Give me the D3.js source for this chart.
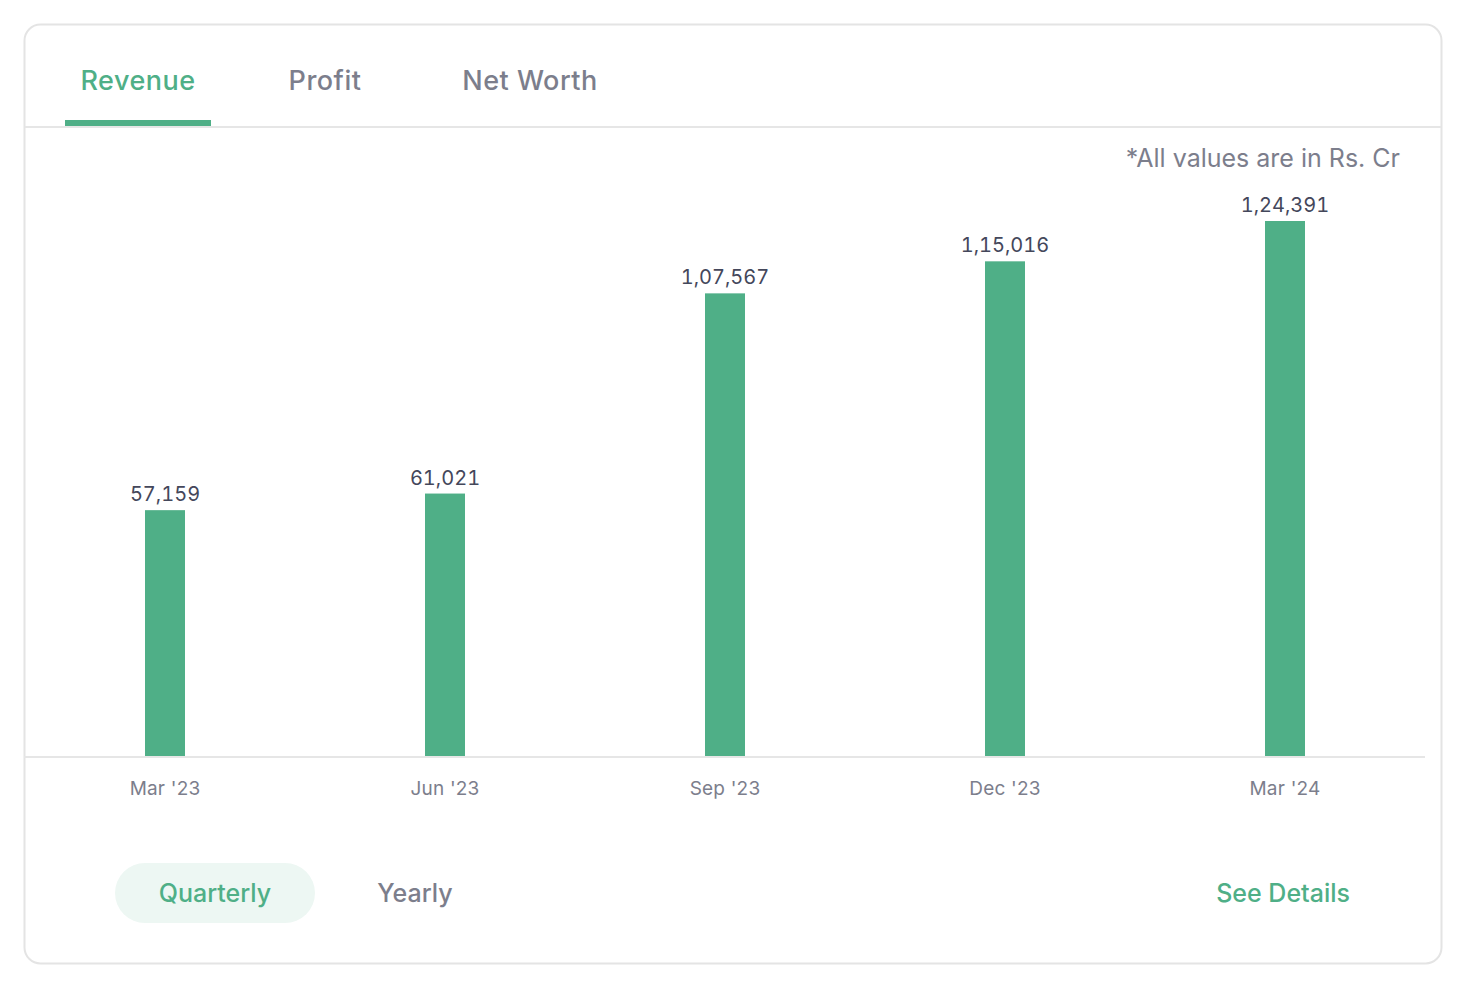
<!DOCTYPE html>
<html>
<head>
<meta charset="utf-8">
<script src="https://cdn.jsdelivr.net/npm/d3@7/dist/d3.min.js"></script>
<style>
  html, body { margin: 0; padding: 0; background: #ffffff; }
  svg { display: block; font-family: Inter, "Noto Sans", sans-serif; }
  .val { font-variant-numeric: tabular-nums; font-feature-settings: "tnum" 1; }
</style>
</head>
<body>
<svg id="chart" width="1476" height="992"></svg>
<script>
const categories = ["Mar '23", "Jun '23", "Sep '23", "Dec '23", "Mar '24"];
const revenue = [57159, 61021, 107567, 115016, 124391];
const valueLabels = ["57,159", "61,021", "1,07,567", "1,15,016", "1,24,391"];
const tabs = ["Revenue", "Profit", "Net Worth"];
const periods = ["Quarterly", "Yearly"];

const GREEN = "#4faf87";
const GRAY = "#7c7e8c";
const DARK = "#44475b";

const svg = d3.select("#chart");

// card
svg.append("rect")
  .attr("x", 24.5).attr("y", 24.5)
  .attr("width", 1417).attr("height", 939)
  .attr("rx", 16).attr("ry", 16)
  .attr("fill", "#fff").attr("stroke", "#e4e4e4").attr("stroke-width", 2);

// tabs
const tabX = [138, 325, 530];
svg.selectAll("text.tab").data(tabs).enter().append("text")
  .attr("class", "tab")
  .attr("x", (d, i) => tabX[i]).attr("y", 90)
  .attr("text-anchor", "middle")
  .attr("font-size", 27).attr("font-weight", 500)
  .attr("letter-spacing", 0.5)
  .attr("fill", (d, i) => i === 0 ? GREEN : GRAY)
  .text(d => d);

svg.append("line")
  .attr("x1", 25).attr("x2", 1441).attr("y1", 127).attr("y2", 127)
  .attr("stroke", "#e6e6e6").attr("stroke-width", 2);
svg.append("rect")
  .attr("x", 65).attr("y", 120).attr("width", 146).attr("height", 6)
  .attr("fill", GREEN);

// note
svg.append("text")
  .attr("x", 1400).attr("y", 167)
  .attr("text-anchor", "end")
  .attr("font-size", 25)
  .attr("fill", GRAY)
  .text("*All values are in Rs. Cr");

// scales
const x = d3.scaleBand().domain(categories).range([25, 1425]).padding(0);
const y = d3.scaleLinear().domain([0, d3.max(revenue)]).range([756, 221]);
const barW = 40;

const data = categories.map((c, i) => ({ c, v: revenue[i], l: valueLabels[i] }));

svg.selectAll("rect.bar").data(data).enter().append("rect")
  .attr("class", "bar")
  .attr("x", d => x(d.c) + x.bandwidth() / 2 - barW / 2)
  .attr("y", d => y(d.v))
  .attr("width", barW)
  .attr("height", d => y(0) - y(d.v))
  .attr("fill", GREEN);

svg.selectAll("text.val").data(data).enter().append("text")
  .attr("class", "val")
  .attr("x", d => x(d.c) + x.bandwidth() / 2)
  .attr("y", d => y(d.v) - 9)
  .attr("text-anchor", "middle")
  .attr("font-size", 20)
  .attr("fill", DARK)
  .text(d => d.l);

// x axis
const axis = svg.append("g")
  .attr("transform", `translate(0,${y(0) + 1})`)
  .call(d3.axisBottom(x).tickSize(0).tickPadding(25).tickSizeOuter(0));
axis.select(".domain").attr("stroke", "#e6e6e6").attr("stroke-width", 2)
  .attr("d", "M24,0H1425");
axis.selectAll(".tick text")
  .attr("font-size", 19)
  .attr("font-family", "Inter, 'Noto Sans', sans-serif")
  .attr("letter-spacing", 0.2)
  .attr("fill", GRAY);

// period toggles
svg.append("rect")
  .attr("x", 115).attr("y", 863).attr("width", 200).attr("height", 60)
  .attr("rx", 30).attr("fill", "#edf7f3");
const periodX = [215, 415];
svg.selectAll("text.period").data(periods).enter().append("text")
  .attr("class", "period")
  .attr("x", (d, i) => periodX[i]).attr("y", 902)
  .attr("text-anchor", "middle")
  .attr("font-size", 25).attr("font-weight", 500)
  .attr("fill", (d, i) => i === 0 ? GREEN : GRAY)
  .text(d => d);

svg.append("text")
  .attr("x", 1350).attr("y", 902)
  .attr("text-anchor", "end")
  .attr("font-size", 25).attr("font-weight", 500)
  .attr("fill", GREEN)
  .text("See Details");
</script>
</body>
</html>
